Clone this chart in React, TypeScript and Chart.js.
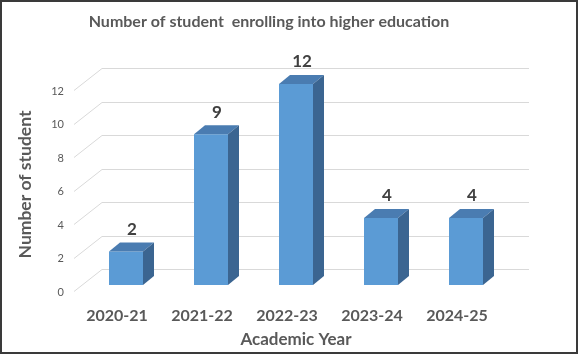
import React, { useEffect, useRef } from 'react';
import { Chart, registerables } from 'chart.js';

Chart.register(...registerables);

const categories = ['2020-21', '2021-22', '2022-23', '2023-24', '2024-25'];
const students = [2, 9, 12, 4, 4];
const yTickValues = [0, 2, 4, 6, 8, 10, 12];
const chartTitle = 'Number of student  enrolling into higher education';
const xAxisTitle = 'Academic Year';
const yAxisTitle = 'Number of student';

const FRONT = '#5b9bd5';
const TOP = '#4a7cb1';
const SIDE = '#3b6591';
const TEXT = '#595959';
const FONT = 'Lato, "Open Sans", sans-serif';
const DX = 11;
const DY = -9;

const threeD = {
  id: 'threeD',
  beforeDatasetsDraw(chart: any) {
    const { ctx, chartArea, scales } = chart;
    const y = scales.y;
    ctx.save();
    ctx.strokeStyle = '#d9d9d9';
    ctx.lineWidth = 1;
    for (const v of yTickValues) {
      const yf = Math.round(y.getPixelForValue(v));
      ctx.beginPath();
      ctx.moveTo(chartArea.left - 9.5, yf + 6.5);
      ctx.lineTo(chartArea.left + 18.5, yf - 15.5);
      ctx.lineTo(chartArea.right + 20.5, yf - 15.5);
      ctx.stroke();
    }
    ctx.restore();
  },
  afterDatasetsDraw(chart: any) {
    const { ctx } = chart;
    const meta = chart.getDatasetMeta(0);
    ctx.save();
    meta.data.forEach((bar: any, i: number) => {
      const { x, y, base, width } = bar.getProps(['x', 'y', 'base', 'width'], true);
      const x0 = x - width / 2;
      const x1 = x + width / 2;
      ctx.fillStyle = TOP;
      ctx.beginPath();
      ctx.moveTo(x0, y);
      ctx.lineTo(x1, y);
      ctx.lineTo(x1 + DX, y + DY);
      ctx.lineTo(x0 + DX, y + DY);
      ctx.closePath();
      ctx.fill();
      ctx.fillStyle = SIDE;
      ctx.beginPath();
      ctx.moveTo(x1, y);
      ctx.lineTo(x1 + DX, y + DY);
      ctx.lineTo(x1 + DX, base + DY);
      ctx.lineTo(x1, base);
      ctx.closePath();
      ctx.fill();
      ctx.fillStyle = '#404040';
      ctx.font = `bold 17px ${FONT}`;
      ctx.textAlign = 'center';
      ctx.textBaseline = 'middle';
      ctx.fillText(String(students[i]), x + 6, y - 22);
    });
    ctx.restore();
  },
  afterDraw(chart: any) {
    const { ctx, width, height } = chart;
    ctx.save();
    ctx.strokeStyle = '#3a3a3a';
    ctx.lineWidth = 2;
    ctx.strokeRect(1, 1, width - 3, height - 3);
    ctx.restore();
  },
};

export default function App() {
  const canvasRef = useRef<HTMLCanvasElement | null>(null);

  useEffect(() => {
    document.body.style.margin = '0';
    const canvas = canvasRef.current;
    if (!canvas) return;
    const chart = new Chart(canvas, {
      type: 'bar',
      data: {
        labels: categories,
        datasets: [
          {
            data: students,
            backgroundColor: FRONT,
            borderWidth: 0,
            categoryPercentage: 1,
            barPercentage: 0.4,
          },
        ],
      },
      options: {
        responsive: false,
        animation: false,
        devicePixelRatio: 1,
        layout: { padding: { left: 4, right: 45, top: 0, bottom: 0 } },
        plugins: {
          legend: { display: false },
          tooltip: { enabled: false },
          title: {
            display: true,
            text: chartTitle,
            color: TEXT,
            font: { family: FONT, size: 16, weight: 'bold', lineHeight: 1.2 },
            padding: { top: 12.4, bottom: 52.4 },
          },
        },
        scales: {
          x: {
            type: 'category',
            offset: true,
            grid: { display: false, drawTicks: false },
            border: { display: false },
            ticks: {
              color: TEXT,
              font: { family: FONT, size: 16, weight: 'bold', lineHeight: 1.2 },
              padding: 21.4,
              labelOffset: -9,
              maxRotation: 0,
              autoSkip: false,
            },
            title: {
              display: true,
              text: xAxisTitle,
              color: TEXT,
              font: { family: FONT, size: 17, weight: 'bold', lineHeight: 1.2 },
              padding: { top: 0, bottom: 4.8 },
            },
            afterFit: (scale: any) => {
              scale.height = 70;
            },
          },
          y: {
            type: 'linear',
            min: 0,
            max: 12,
            grid: { display: false, drawTicks: false },
            border: { display: false },
            ticks: {
              stepSize: 2,
              color: TEXT,
              font: { family: FONT, size: 11 },
              padding: 19.5,
              labelOffset: 7,
            },
            title: {
              display: true,
              text: yAxisTitle,
              color: TEXT,
              font: { family: FONT, size: 17.5, weight: 'bold', lineHeight: 1.2 },
              padding: { top: 10.5, bottom: 0 },
            },
            afterFit: (scale: any) => {
              scale.width = 79.5;
            },
          },
          y2: {
            type: 'linear',
            position: 'right',
            display: true,
            grid: { display: false, drawTicks: false },
            border: { display: false },
            ticks: { display: false },
            afterFit: (scale: any) => {
              scale.width = 25.5;
            },
          },
        },
      },
      plugins: [threeD],
    });
    return () => chart.destroy();
  }, []);

  return (
    <div style={{ width: 579, height: 355, background: '#ffffff' }}>
      <canvas ref={canvasRef} width={579} height={355} style={{ display: 'block' }} />
    </div>
  );
}
